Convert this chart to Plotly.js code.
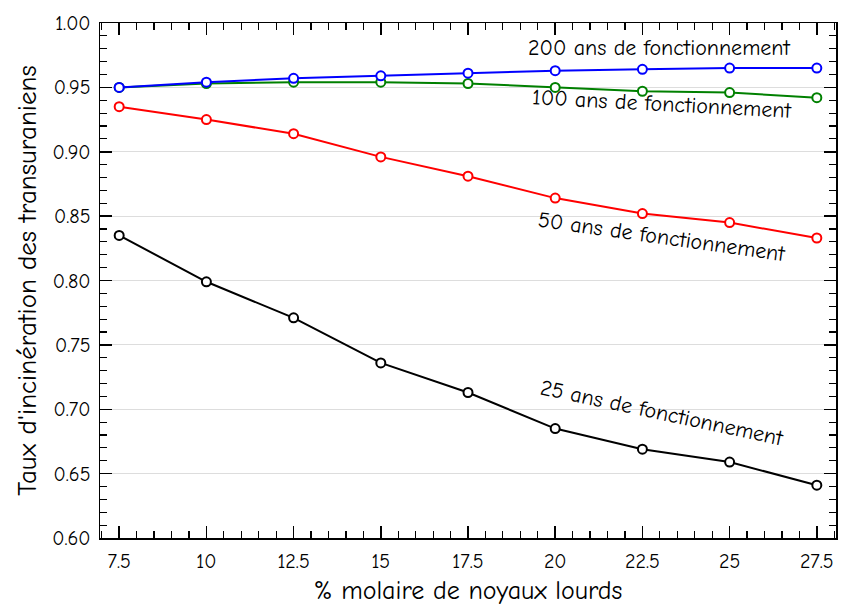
<!DOCTYPE html>
<html>
<head>
<meta charset="utf-8">
<script src="https://cdn.plot.ly/plotly-3.0.1.min.js"></script>
<style>html,body{margin:0;padding:0;background:#fff}#chart{width:843px;height:606px}</style>
</head>
<body>
<div id="chart"></div>
<script>
const xValues = [7.5, 10, 12.5, 15, 17.5, 20, 22.5, 25, 27.5];
const y25 = [0.835, 0.799, 0.771, 0.736, 0.713, 0.685, 0.669, 0.659, 0.641];
const y50 = [0.935, 0.925, 0.914, 0.896, 0.881, 0.864, 0.852, 0.845, 0.833];
const y100 = [0.950, 0.953, 0.954, 0.954, 0.953, 0.950, 0.947, 0.946, 0.942];
const y200 = [0.950, 0.954, 0.957, 0.959, 0.961, 0.963, 0.964, 0.965, 0.965];
const seriesNames = ["25 ans de fonctionnement", "50 ans de fonctionnement", "100 ans de fonctionnement", "200 ans de fonctionnement"];
const seriesColors = ["#000000", "#ff0000", "#008000", "#0000ff"];
const xTicks = [7.5, 10, 12.5, 15, 17.5, 20, 22.5, 25, 27.5];
const xTickLabels = ["7.5", "10", "12.5", "15", "17.5", "20", "22.5", "25", "27.5"];
const yTicks = [0.60, 0.65, 0.70, 0.75, 0.80, 0.85, 0.90, 0.95, 1.00];
const yTickLabels = ["0.60", "0.65", "0.70", "0.75", "0.80", "0.85", "0.90", "0.95", "1.00"];

const FONT = "Comic Sans MS, 'Comic Neue', 'DejaVu Sans', sans-serif";
const ys = [y25, y50, y100, y200];
const traces = ys.map((y, i) => ({
  x: xValues, y: y, type: 'scatter', mode: 'lines+markers', name: seriesNames[i],
  line: {color: seriesColors[i], width: 2},
  marker: {symbol: 'circle', size: 9, color: '#ffffff', line: {color: seriesColors[i], width: 2}},
  showlegend: false, cliponaxis: false
}));

const annots = [
  {text: seriesNames[3], x: 23.0, y: 0.9805, angle: 0},
  {text: seriesNames[2], x: 23.05, y: 0.937, angle: 3},
  {text: seriesNames[1], x: 23.05, y: 0.834, angle: 8},
  {text: seriesNames[0], x: 23.05, y: 0.697, angle: 12}
].map(a => ({
  text: a.text, x: a.x, y: a.y, xref: 'x', yref: 'y', showarrow: false,
  textangle: a.angle, font: {family: FONT, size: 22, color: '#000'}
}));

const layout = {
  width: 843, height: 606,
  margin: {l: 100, r: 7, t: 23, b: 68},
  paper_bgcolor: '#fff', plot_bgcolor: '#fff',
  font: {family: FONT, color: '#000'},
  xaxis: {
    range: [6.95, 28.05], tickvals: xTicks, ticktext: xTickLabels,
    ticks: 'inside', ticklen: 12, tickwidth: 1.5, tickcolor: '#000',
    showline: true, linecolor: '#000', linewidth: 1.5, mirror: 'allticks',
    showgrid: false, zeroline: false,
    minor: {dtick: 0.5, ticks: 'inside', ticklen: 7, tickwidth: 1.2, tickcolor: '#000', showgrid: false},
    tickfont: {family: FONT, size: 20}, ticklabelstandoff: 4,
    title: {text: '% molaire de noyaux lourds', font: {family: FONT, size: 26}, standoff: 10}
  },
  yaxis: {
    range: [0.60, 1.00], tickvals: yTicks, ticktext: yTickLabels,
    ticks: 'inside', ticklen: 12, tickwidth: 1.5, tickcolor: '#000',
    showline: true, linecolor: '#000', linewidth: 1.5, mirror: 'allticks',
    showgrid: true, gridcolor: '#dddddd', gridwidth: 1, zeroline: false,
    minor: {dtick: 0.01, ticks: 'inside', ticklen: 7, tickwidth: 1.2, tickcolor: '#000', showgrid: false},
    tickfont: {family: FONT, size: 20}, ticklabelstandoff: 4,
    title: {text: "Taux d'incinération des transuraniens", font: {family: FONT, size: 27}, standoff: 8}
  },
  annotations: annots
};

Plotly.newPlot('chart', traces, layout, {displayModeBar: false, staticPlot: true});
</script>
</body>
</html>
